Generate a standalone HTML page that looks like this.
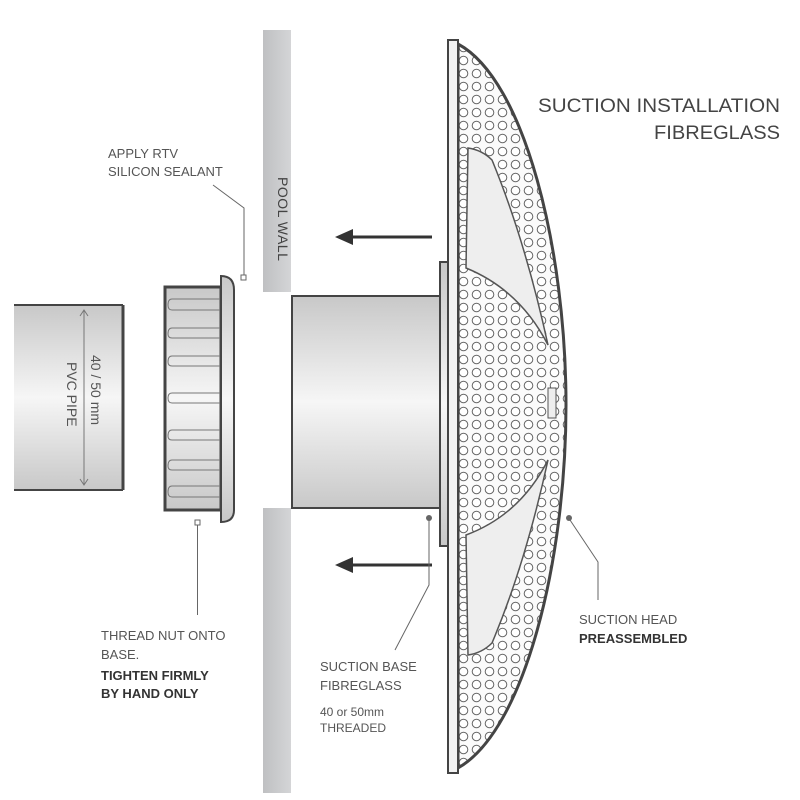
<!DOCTYPE html>
<html><head><meta charset="utf-8"><style>
body{margin:0;background:#fff}
svg{display:block}
text{font-family:"Liberation Sans",sans-serif;fill:#555}
</style></head><body>
<svg width="800" height="800" viewBox="0 0 800 800" xmlns="http://www.w3.org/2000/svg">
<defs>
<linearGradient id="pg" x1="0" y1="0" x2="0" y2="1">
<stop offset="0" stop-color="#c8c8c8"/><stop offset="0.5" stop-color="#f6f6f6"/><stop offset="1" stop-color="#c8c8c8"/></linearGradient>
<linearGradient id="wg" x1="0" y1="0" x2="1" y2="0">
<stop offset="0" stop-color="#bfc0c2"/><stop offset="1" stop-color="#d4d5d7"/></linearGradient>
<pattern id="holes" x="2" y="2" width="13" height="13" patternUnits="userSpaceOnUse">
<rect width="13" height="13" fill="#fbfbfb"/>
<circle cx="6.5" cy="6.5" r="4.3" fill="#fff" stroke="#666" stroke-width="1"/></pattern>
<clipPath id="dome"><path d="M458,44 C525,80 566,250 566,405 C566,560 525,730 458,768 Z"/></clipPath>
</defs>

<rect x="263" y="30" width="28" height="262" fill="url(#wg)"/>
<rect x="263" y="508" width="28" height="285" fill="url(#wg)"/>
<text transform="translate(278,177) rotate(90)" font-size="14" style="fill:#444;letter-spacing:0.5px">POOL WALL</text>

<rect x="14" y="305" width="109" height="185" fill="url(#pg)"/>
<line x1="14" y1="305" x2="123" y2="305" stroke="#444" stroke-width="2"/>
<line x1="14" y1="490" x2="123" y2="490" stroke="#444" stroke-width="2"/>
<line x1="123" y1="305" x2="123" y2="490" stroke="#444" stroke-width="3"/>
<line x1="84" y1="311" x2="84" y2="485" stroke="#777" stroke-width="1"/>
<path d="M80,316 L84,310 L88,316 M80,479 L84,485 L88,479" fill="none" stroke="#777"/>
<text transform="translate(91,355) rotate(90)" font-size="14">40 / 50 mm</text>
<text transform="translate(67,362) rotate(90)" font-size="14">PVC PIPE</text>

<rect x="165" y="287" width="56" height="223" fill="url(#pg)" stroke="#444" stroke-width="3"/>
<g stroke="#777" fill="none" stroke-width="1">
<path d="M221,299 H172 Q168,299 168,305 Q168,310 172,310 H221"/>
<path d="M221,328 H172 Q168,328 168,334 Q168,338 172,338 H221"/>
<path d="M221,356 H172 Q168,356 168,362 Q168,366 172,366 H221"/>
<path d="M221,393 H172 Q168,393 168,398 Q168,403 172,403 H221"/>
<path d="M221,430 H172 Q168,430 168,436 Q168,440 172,440 H221"/>
<path d="M221,460 H172 Q168,460 168,466 Q168,470 172,470 H221"/>
<path d="M221,486 H172 Q168,486 168,492 Q168,497 172,497 H221"/>
</g>
<path d="M221,287 V276 Q234,276 234,290 V510 Q234,522 221,522 V510 Z" fill="url(#pg)" stroke="#444" stroke-width="2"/>

<rect x="292" y="296" width="148" height="212" fill="url(#pg)" stroke="#444" stroke-width="2"/>
<rect x="440" y="262" width="15" height="284" fill="url(#pg)" stroke="#444" stroke-width="2"/>

<path d="M458,44 C525,80 566,250 566,405 C566,560 525,730 458,768 Z" fill="url(#holes)" stroke="#444" stroke-width="3"/>
<g clip-path="url(#dome)" fill="#eee" stroke="#555" stroke-width="1.5">
<path d="M466,268 L468,148 Q482,150 492,160 Q525,240 548,345 Q520,290 466,268 Z"/>
<path d="M466,535 L468,655 Q482,653 492,643 Q525,565 548,460 Q520,515 466,535 Z"/>
</g>
<rect x="448" y="40" width="10" height="733" fill="#f2f2f2" stroke="#444" stroke-width="2"/>
<rect x="548" y="388" width="8" height="30" fill="#eee" stroke="#555"/>

<g stroke="#333" stroke-width="3" fill="#333">
<line x1="432" y1="237" x2="350" y2="237"/><path d="M335,237 L353,229 L353,245 Z" stroke="none"/>
<line x1="432" y1="565" x2="350" y2="565"/><path d="M335,565 L353,557 L353,573 Z" stroke="none"/>
</g>

<g stroke="#666" stroke-width="1" fill="none">
<polyline points="213,185 244,208 244,275"/>
<rect x="241" y="275" width="5" height="5" fill="#fff"/>
<rect x="195" y="520" width="5" height="5" fill="#fff"/>
<line x1="197.5" y1="525" x2="197.5" y2="615"/>
<polyline points="429,520 429,585 395,650"/>
<polyline points="570,520 598,562 598,600"/>
</g>
<circle cx="429" cy="518" r="3" fill="#666"/>
<circle cx="569" cy="518" r="3" fill="#666"/>

<text x="538" y="112" font-size="19" textLength="242" lengthAdjust="spacingAndGlyphs" style="fill:#444">SUCTION INSTALLATION</text>
<text x="654" y="139" font-size="19" textLength="126" lengthAdjust="spacingAndGlyphs" style="fill:#444">FIBREGLASS</text>
<text x="108" y="158" font-size="13">APPLY RTV</text>
<text x="108" y="176" font-size="13">SILICON SEALANT</text>
<text x="101" y="640" font-size="13">THREAD NUT ONTO</text>
<text x="101" y="659" font-size="13">BASE.</text>
<text x="101" y="680" font-size="13" font-weight="bold" style="fill:#333">TIGHTEN FIRMLY</text>
<text x="101" y="698" font-size="13" font-weight="bold" style="fill:#333">BY HAND ONLY</text>
<text x="320" y="671" font-size="13">SUCTION BASE</text>
<text x="320" y="690" font-size="13">FIBREGLASS</text>
<text x="320" y="716" font-size="12">40 or 50mm</text>
<text x="320" y="732" font-size="12">THREADED</text>
<text x="579" y="624" font-size="13">SUCTION HEAD</text>
<text x="579" y="643" font-size="13" font-weight="bold" style="fill:#333">PREASSEMBLED</text>
</svg>
</body></html>
